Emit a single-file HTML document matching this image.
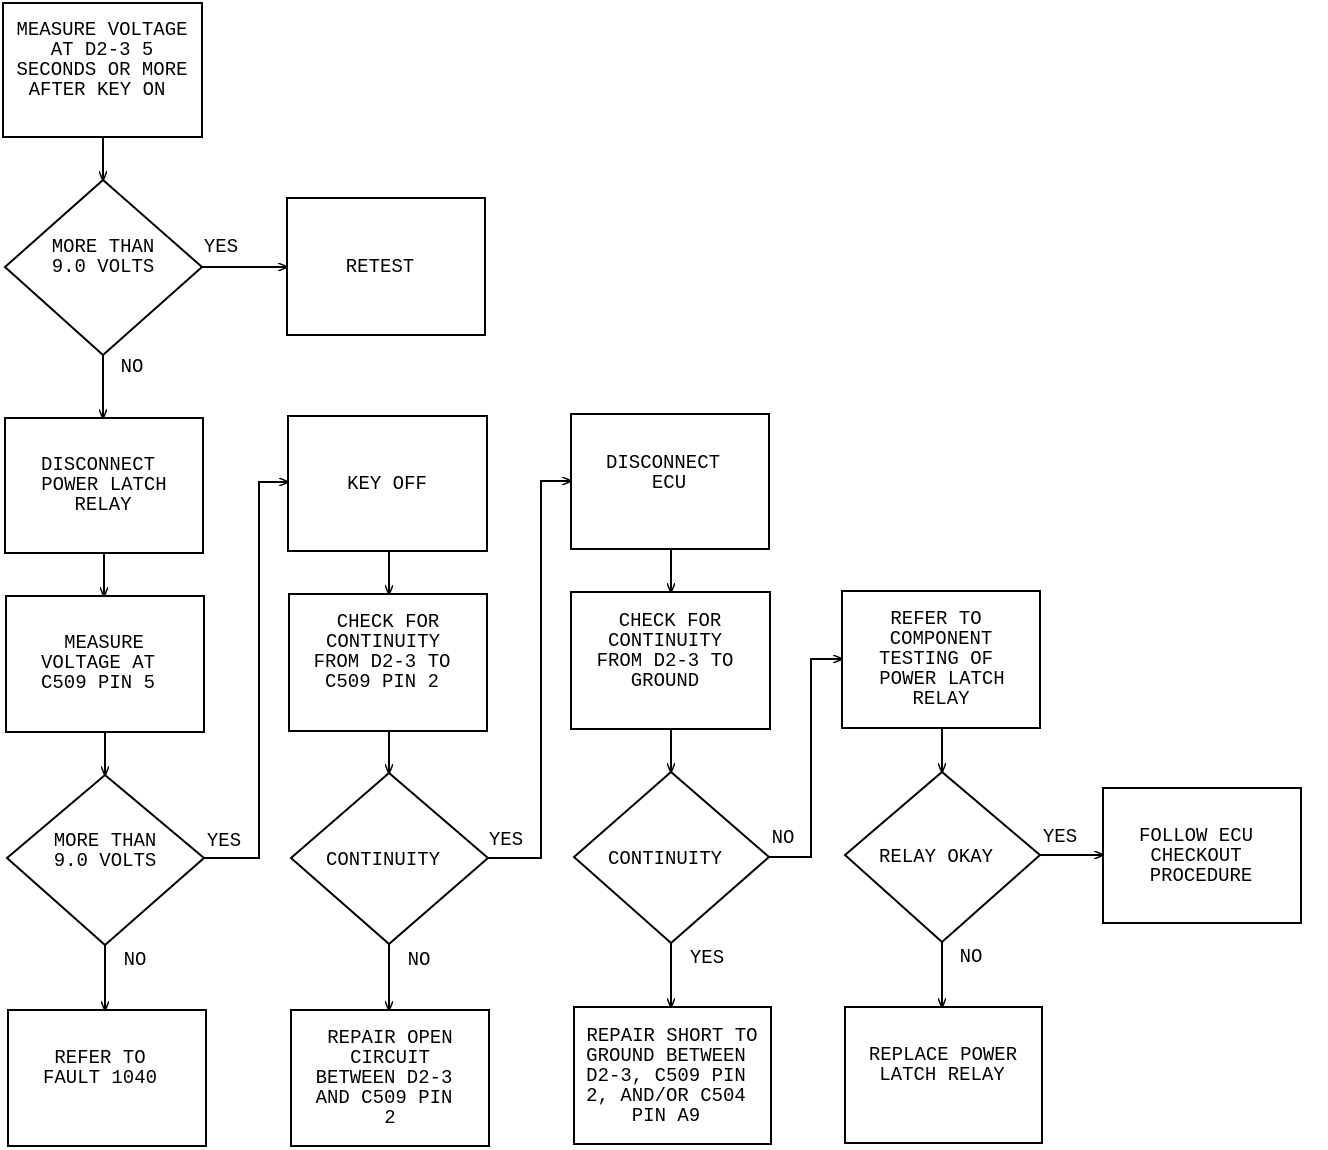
<!DOCTYPE html>
<html><head><meta charset="utf-8"><style>
html,body{margin:0;padding:0;background:#fff;}
svg{display:block;}
text{font-family:"Liberation Mono",monospace;font-size:19px;fill:#000;text-anchor:middle;}
</style></head><body>
<svg width="1328" height="1150" viewBox="0 0 1328 1150" xmlns="http://www.w3.org/2000/svg">
<defs><marker id="a" markerWidth="10" markerHeight="8" refX="9" refY="4" orient="auto" markerUnits="userSpaceOnUse"><path d="M0,0 L10,4 L0,8" fill="none" stroke="#000" stroke-width="1.5"/></marker></defs>
<g fill="none" stroke="#000" stroke-width="2">
<rect x="3" y="3" width="199" height="134"/>
<polygon points="5,267 103,180 202,267 103,355"/>
<rect x="287" y="198" width="198" height="137"/>
<rect x="5" y="418" width="198" height="135"/>
<rect x="6" y="596" width="198" height="136"/>
<polygon points="7,858 105,775 204,858 105,945"/>
<rect x="8" y="1010" width="198" height="136"/>
<rect x="288" y="416" width="199" height="135"/>
<rect x="289" y="594" width="198" height="137"/>
<polygon points="291,858 389,773 488,858 389,944"/>
<rect x="291" y="1010" width="198" height="136"/>
<rect x="571" y="414" width="198" height="135"/>
<rect x="571" y="592" width="199" height="137"/>
<polygon points="574,857 671,772 769,857 671,943"/>
<rect x="574" y="1007" width="197" height="137"/>
<rect x="842" y="591" width="198" height="137"/>
<polygon points="845,855 942,772 1040,855 942,942"/>
<rect x="1103" y="788" width="198" height="135"/>
<rect x="845" y="1007" width="197" height="136"/>
</g>
<g fill="none" stroke="#000" stroke-width="2" marker-end="url(#a)">
<path d="M103,137 V180"/>
<path d="M202,267 H287"/>
<path d="M103,355 V418"/>
<path d="M104,553 V596"/>
<path d="M105,732 V775"/>
<path d="M105,945 V1010"/>
<path d="M204,858 H259 V482 H288"/>
<path d="M389,551 V594"/>
<path d="M389,731 V773"/>
<path d="M389,944 V1010"/>
<path d="M488,858 H541 V481 H571"/>
<path d="M671,549 V592"/>
<path d="M671,729 V772"/>
<path d="M671,943 V1007"/>
<path d="M769,857 H811 V659 H842"/>
<path d="M942,728 V772"/>
<path d="M942,942 V1007"/>
<path d="M1040,855 H1103"/>
</g>
<text x="102" y="35">MEASURE VOLTAGE</text>
<text x="102" y="55">AT D2-3 5</text>
<text x="102" y="75">SECONDS OR MORE</text>
<text x="97" y="95">AFTER KEY ON</text>
<text x="103" y="252">MORE THAN</text>
<text x="103" y="272">9.0 VOLTS</text>
<text x="221" y="252">YES</text>
<text x="132" y="372">NO</text>
<text x="380" y="272">RETEST</text>
<text x="98" y="470">DISCONNECT</text>
<text x="104" y="490">POWER LATCH</text>
<text x="103" y="510">RELAY</text>
<text x="104" y="648">MEASURE</text>
<text x="98" y="668">VOLTAGE AT</text>
<text x="98" y="688">C509 PIN 5</text>
<text x="105" y="846">MORE THAN</text>
<text x="105" y="866">9.0 VOLTS</text>
<text x="224" y="846">YES</text>
<text x="135" y="965">NO</text>
<text x="100" y="1063">REFER TO</text>
<text x="100" y="1083">FAULT 1040</text>
<text x="387" y="489">KEY OFF</text>
<text x="388" y="627">CHECK FOR</text>
<text x="383" y="647">CONTINUITY</text>
<text x="382" y="667">FROM D2-3 TO</text>
<text x="382" y="687">C509 PIN 2</text>
<text x="383" y="865">CONTINUITY</text>
<text x="506" y="845">YES</text>
<text x="419" y="965">NO</text>
<text x="390" y="1043">REPAIR OPEN</text>
<text x="390" y="1063">CIRCUIT</text>
<text x="384" y="1083">BETWEEN D2-3</text>
<text x="384" y="1103">AND C509 PIN</text>
<text x="390" y="1123">2</text>
<text x="663" y="468">DISCONNECT</text>
<text x="669" y="488">ECU</text>
<text x="670" y="626">CHECK FOR</text>
<text x="665" y="646">CONTINUITY</text>
<text x="665" y="666">FROM D2-3 TO</text>
<text x="665" y="686">GROUND</text>
<text x="665" y="864">CONTINUITY</text>
<text x="783" y="843">NO</text>
<text x="707" y="963">YES</text>
<text x="672" y="1041">REPAIR SHORT TO</text>
<text x="666" y="1061">GROUND BETWEEN</text>
<text x="666" y="1081">D2-3, C509 PIN</text>
<text x="666" y="1101">2, AND/OR C504</text>
<text x="666" y="1121">PIN A9</text>
<text x="936" y="624">REFER TO</text>
<text x="941" y="644">COMPONENT</text>
<text x="936" y="664">TESTING OF</text>
<text x="942" y="684">POWER LATCH</text>
<text x="941" y="704">RELAY</text>
<text x="936" y="862">RELAY OKAY</text>
<text x="1060" y="842">YES</text>
<text x="971" y="962">NO</text>
<text x="1196" y="841">FOLLOW ECU</text>
<text x="1196" y="861">CHECKOUT</text>
<text x="1201" y="881">PROCEDURE</text>
<text x="943" y="1060">REPLACE POWER</text>
<text x="942" y="1080">LATCH RELAY</text>
</svg>
</body></html>
